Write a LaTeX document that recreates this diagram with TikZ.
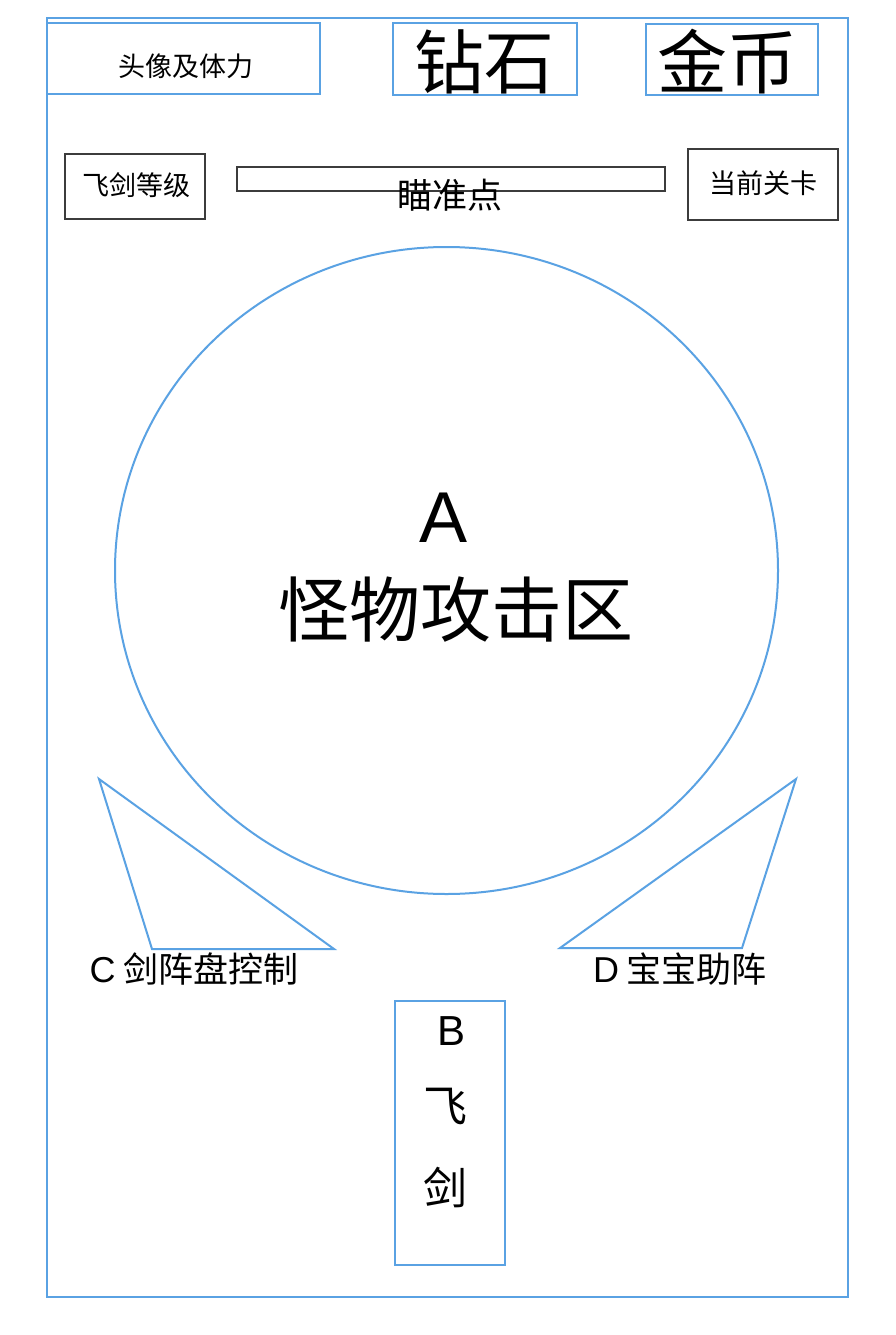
\documentclass[tikz,border=0pt]{standalone}
\usepackage{fontspec}
\setmainfont{Noto Sans CJK SC}
\newfontfamily\latinfont{Liberation Sans}
\definecolor{frameblue}{HTML}{5AA2E3}
\definecolor{boxgray}{HTML}{3C3C3C}
\tikzset{
  bluebox/.style={draw=frameblue, line width=2pt, inner sep=0pt, outer sep=0pt, rectangle},
  graybox/.style={draw=boxgray, line width=2pt, inner sep=0pt, outer sep=0pt, rectangle},
  blueline/.style={draw=frameblue, line width=2pt, line join=miter},
  lbl/.style={inner sep=0pt, text=black},
}
\begin{document}
\begin{tikzpicture}[x=1pt,y=-1pt]
\useasboundingbox[fill=white] (0,0) rectangle (895,1335);
% outer frame
\node[bluebox, minimum width=801pt, minimum height=1279pt] (frame) at (447.5,657.5) {};
% top row
\node[bluebox, minimum width=273pt, minimum height=71pt] (head) at (183.5,58.5) {};
\node[lbl, font=\fontsize{27}{30}\selectfont] (headt) at (186,66) {头像及体力};
\node[bluebox, minimum width=184pt, minimum height=72pt] (gem) at (485,59) {};
\node[lbl, font=\fontsize{70}{76}\selectfont] (gemt) at (484,62) {钻石};
\node[bluebox, minimum width=172pt, minimum height=71pt] (gold) at (732,59.5) {};
\node[lbl, font=\fontsize{70}{76}\selectfont] (goldt) at (727,62) {金币};
% second row
\node[graybox, minimum width=140pt, minimum height=65pt] (lvl) at (135,186.5) {};
\node[lbl, font=\fontsize{27}{30}\selectfont] (lvlt) at (136,185) {飞剑等级};
\node[graybox, minimum width=428pt, minimum height=24pt] (aim) at (451,179) {};
\node[lbl, font=\fontsize{35}{38}\selectfont] (aimt) at (450,195) {瞄准点};
\node[graybox, minimum width=150pt, minimum height=71pt] (stage) at (763,184.5) {};
\node[lbl, font=\fontsize{27}{30}\selectfont] (staget) at (763,183) {当前关卡};
% monster area
\draw[blueline] (446.5,570.5) ellipse [x radius=331.5, y radius=323.5];
\node[lbl, font=\latinfont\fontsize{72}{76}\selectfont] (atxt) at (444,518) {A};
\node[lbl, font=\fontsize{71}{76}\selectfont] (mtxt) at (456,610) {怪物攻击区};
% triangles
\draw[blueline] (99,779) -- (152,949) -- (334,949) -- cycle;
\draw[blueline] (796,779) -- (742,948) -- (560,948) -- cycle;
\node[lbl, font=\fontsize{35}{38}\selectfont] (ctxt) at (194,969) {{\latinfont\fontsize{36}{40}\selectfont C} 剑阵盘控制};
\node[lbl, font=\fontsize{35}{38}\selectfont] (dtxt) at (680,969) {{\latinfont\fontsize{36}{40}\selectfont D} 宝宝助阵};
% flying sword
\node[bluebox, minimum width=110pt, minimum height=264pt] (sword) at (450,1133) {};
\node[lbl, font=\latinfont\fontsize{42}{46}\selectfont] (bt) at (452,1031) {B};
\node[lbl, font=\fontsize{44}{48}\selectfont] (fei) at (445,1106) {飞};
\node[lbl, font=\fontsize{44}{48}\selectfont] (jian) at (445,1187) {剑};
\end{tikzpicture}
\end{document}
